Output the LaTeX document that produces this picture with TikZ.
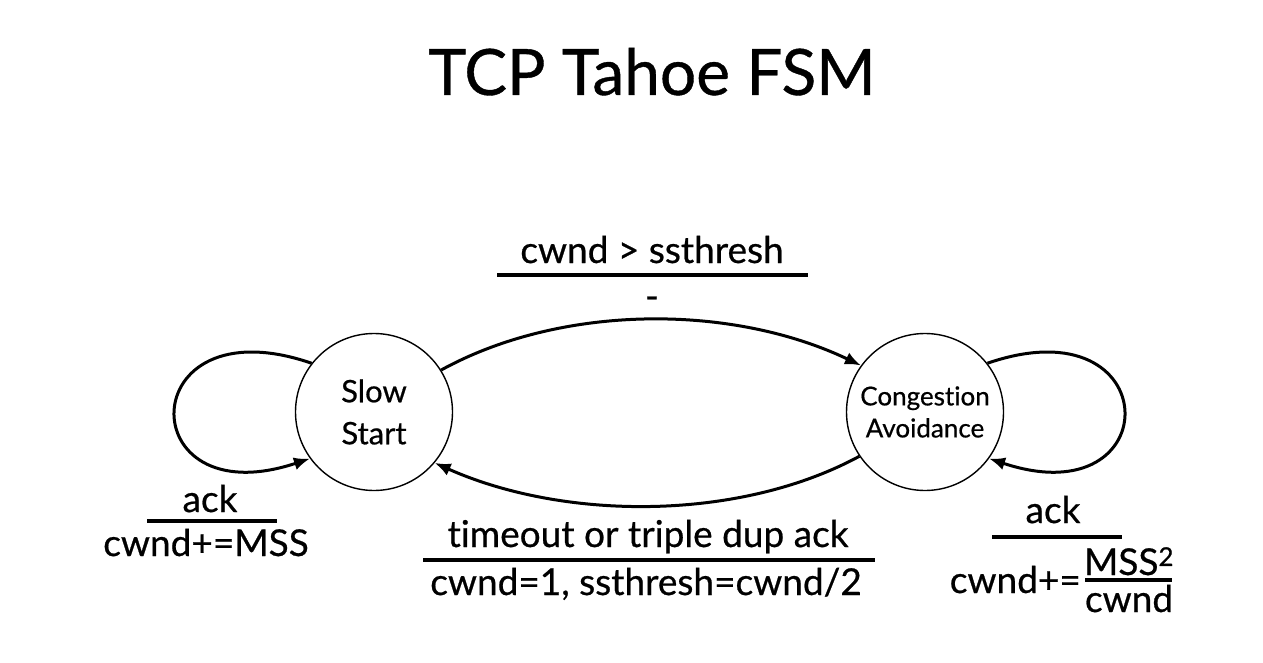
\documentclass[tikz,border=0pt]{standalone}
\usepackage{fontspec}
\setmainfont{Lato}[FakeBold=0.6, Ligatures=NoCommon]
\usetikzlibrary{arrows.meta, positioning}

\begin{document}
\begin{tikzpicture}[
  x=1pt, y=-1pt,
  state/.style={draw, circle, line width=1.4pt, minimum size=157pt,
    inner sep=0pt, align=center},
  edge/.style={->, line width=3pt},
  lbl/.style={anchor=base, inner sep=0pt, font=\fontsize{37}{44}\selectfont},
  rule/.style={line width=3.2pt},
  >={Latex[length=16pt,width=13pt]}
]
\useasboundingbox (0,0) rectangle (1263,663);
\node[anchor=base, inner sep=0pt, font=\fontsize{64}{76}\selectfont] (title) at (652,95) {TCP Tahoe FSM};

\node[state, font=\fontsize{31}{42}\selectfont] (SS) at (374,412) {Slow\\Start};
\node[state, font=\fontsize{26}{32}\selectfont] (CA) at (925,412) {Congestion\\Avoidance};

% transitions between states
\draw[edge] (SS.32) .. controls +(120,-66) and +(-130,-62) .. (CA.144);
\draw[edge] (CA.214) .. controls +(-120,65) and +(130,58) .. (SS.-40);
\draw[edge] (SS.142) .. controls +(-180,-62) and +(-180,60) .. (SS.-144);
\draw[edge] (CA.38) .. controls +(180,-62) and +(180,60) .. (CA.-36);

% guard / action labels
\node[lbl] (upG) at (652,263) {cwnd > ssthresh};
\draw[rule] (497,275) -- (808,275);
\node[lbl] (upA) at (652,309) {-};

\node[lbl] (dnG) at (648,547) {timeout or triple dup ack};
\draw[rule] (423,560) -- (875,560);
\node[lbl] (dnA) at (646,595) {cwnd=1, ssthresh=cwnd/2};

\node[lbl] (ssG) at (210,512) {ack};
\draw[rule] (147,521) -- (277,521);
\node[lbl] (ssA) at (206,556) {cwnd+=MSS};

\node[lbl] (caG) at (1053,523) {ack};
\draw[rule] (992,537) -- (1122,537);
\node[lbl, anchor=base east] (caA) at (1081,593) {cwnd+=};
\node[lbl] (caN) at (1129,575) {MSS\textsuperscript{2}};
\draw[rule] (1085,580) -- (1172,580);
\node[lbl] (caD) at (1129,612) {cwnd};
\end{tikzpicture}
\end{document}
